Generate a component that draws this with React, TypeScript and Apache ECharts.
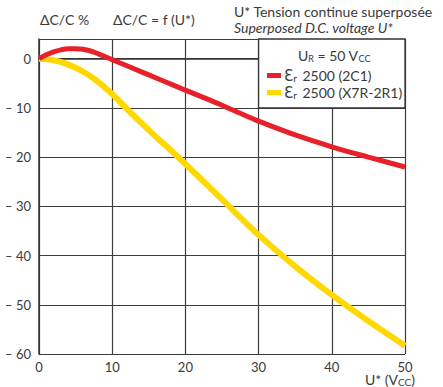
import React, { useEffect, useRef } from "react";
import * as echarts from "echarts";

const xTicks = [0, 10, 20, 30, 40, 50];
const redU = [0, 1, 2, 3, 4, 5, 6, 7.5, 10, 12.5, 15, 17.5, 20, 22.5, 25, 27.5, 30, 35, 40, 45, 50];
const redV = [0, 0.8, 1.4, 1.8, 2.0, 2.0, 1.9, 1.35, -0.2, -1.75, -3.3, -4.85, -6.4, -7.9, -9.45, -11.1, -12.7, -15.5, -17.9, -20.0, -22.0];
const yelU = [0, 2, 4, 6, 8, 10, 12, 14, 16, 18, 20, 25, 30, 35, 40, 45, 50];
const yelV = [0, -0.3, -1.2, -2.6, -4.6, -7.2, -10.2, -13.1, -15.9, -18.6, -21.4, -28.6, -35.8, -42.2, -48.0, -53.3, -58.3];
const seriesNames = ["{e|Ɛ}{r|r} 2500 (2C1)", "{e|Ɛ}{r|r} 2500 (X7R-2R1)"];
const legendBox = [[30, 4], [50, -10]];

const FONT = "Lato";
const TXT = "#3a3a3a";

export default function App() {
  const ref = useRef<HTMLDivElement>(null);
  useEffect(() => {
    const chart = echarts.init(ref.current!, null, { renderer: "svg" });
    chart.setOption({
      animation: false,
      textStyle: { fontFamily: FONT },
      grid: { left: 39, right: 38, top: 39, bottom: 33, containLabel: false },
      xAxis: {
        type: "value",
        min: xTicks[0],
        max: xTicks[xTicks.length - 1],
        interval: 10,
        axisLine: { show: true, lineStyle: { color: "#333", width: 1.5 } },
        axisTick: { show: false },
        splitLine: { show: true, lineStyle: { color: "#3c3c3c", width: 1.2 } },
        axisLabel: { color: TXT, fontSize: 13, fontFamily: FONT, margin: 6 },
      },
      yAxis: {
        type: "value",
        min: -60,
        max: 4,
        interval: 10,
        axisLine: { show: true, lineStyle: { color: "#333", width: 1.5 } },
        axisTick: { show: false },
        splitLine: { show: true, lineStyle: { color: "#3c3c3c", width: 1.2 } },
        axisLabel: {
          color: TXT,
          fontSize: 13,
          fontFamily: FONT,
          margin: 8,
          formatter: (v: number) => (v % 10 !== 0 ? "" : v < 0 ? "– " + Math.abs(v) : String(v)),
        },
      },
      legend: {
        orient: "vertical",
        left: 262,
        top: 63,
        itemWidth: 14,
        itemHeight: 5,
        itemGap: 2,
        icon: "rect",
        z: 20,
        textStyle: {
          color: TXT,
          fontSize: 14,
          fontFamily: FONT,
          lineHeight: 15,
          padding: [0, 0, 0, -2],
          rich: {
            e: { fontSize: 15, lineHeight: 15, fontFamily: "DejaVu Sans", color: TXT },
            r: { fontSize: 10, lineHeight: 15, fontFamily: FONT, color: TXT, verticalAlign: "bottom", padding: [0, 2, 0, 0] },
          },
        },
        data: seriesNames,
      },
      series: [
        {
          name: seriesNames[0],
          type: "line",
          smooth: 0.35,
          symbol: "none",
          lineStyle: { color: "#e8202a", width: 5 },
          itemStyle: { color: "#e8202a" },
          data: redU.map((u, i) => [u, redV[i]]),
          z: 3,
        },
        {
          name: seriesNames[1],
          type: "line",
          smooth: 0.4,
          symbol: "none",
          lineStyle: { color: "#ffd800", width: 6 },
          itemStyle: { color: "#ffd800" },
          data: yelU.map((u, i) => [u, yelV[i]]),
          z: 2,
          markArea: {
            silent: true,
            itemStyle: { color: "#ffffff", borderColor: "#333", borderWidth: 1.3, opacity: 1 },
            data: [[{ coord: legendBox[0] }, { coord: legendBox[1] }]],
          },
        },
      ],
      graphic: [
        {
          type: "text",
          left: 40,
          top: 12,
          z: 50,
          style: { text: "ΔC/C %", fontSize: 14, fontFamily: FONT, fill: TXT },
        },
        {
          type: "text",
          left: 113,
          top: 12,
          z: 50,
          style: { text: "ΔC/C = f (U*)", fontSize: 14, fontFamily: FONT, fill: TXT },
        },
        {
          type: "text",
          left: 234,
          top: 4,
          z: 50,
          style: { text: "U* Tension continue superposée", fontSize: 14, fontFamily: FONT, fill: TXT },
        },
        {
          type: "text",
          left: 234,
          top: 20,
          z: 50,
          style: { text: "Superposed D.C. voltage U*", fontSize: 14, fontStyle: "italic", fontFamily: FONT, fill: TXT },
        },
        {
          type: "text",
          left: 298,
          top: 48,
          z: 50,
          style: {
            text: "U{s|R} = 50 V{s|CC}",
            fontSize: 14,
            fontFamily: FONT,
            fill: TXT,
            rich: { s: { fontSize: 9, fontFamily: FONT, fill: TXT, verticalAlign: "bottom", padding: [6, 0, 0, 0] } },
          },
        },
        {
          type: "text",
          right: 28,
          top: 372,
          z: 50,
          style: {
            text: "U* (V{s|CC})",
            fontSize: 14,
            fontFamily: FONT,
            fill: TXT,
            rich: { s: { fontSize: 10, fontFamily: FONT, fill: TXT, verticalAlign: "bottom", padding: [5, 0, 0, 0] } },
          },
        },
      ],
    });
    return () => chart.dispose();
  }, []);
  return <div ref={ref} style={{ position: "fixed", left: 0, top: 0, width: 443, height: 387, background: "#fff" }} />;
}
